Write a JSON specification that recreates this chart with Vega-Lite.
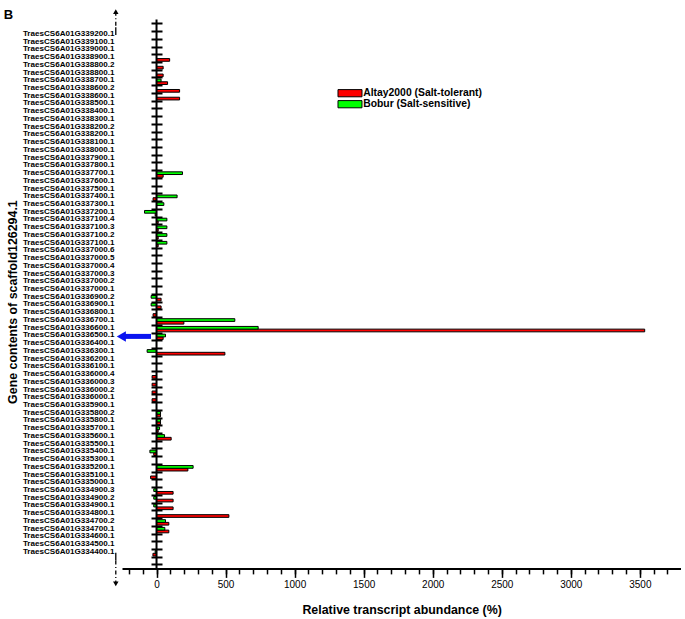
{
  "$schema": "https://vega.github.io/schema/vega-lite/v6.json",
  "width": 559.3,
  "height": 610.7,
  "padding": {"left": 3, "top": 0, "right": 0, "bottom": 0},
  "background": "white",
  "config": {"font": "Liberation Sans", "view": {"stroke": null}},
  "datasets": {
    "bars": [
      {"gene": "TraesCS6A01G338900.1", "cultivar": "Altay2000 (Salt-tolerant)", "value": 95},
      {"gene": "TraesCS6A01G338800.2", "cultivar": "Altay2000 (Salt-tolerant)", "value": 48},
      {"gene": "TraesCS6A01G338800.1", "cultivar": "Altay2000 (Salt-tolerant)", "value": 48},
      {"gene": "TraesCS6A01G338700.1", "cultivar": "Altay2000 (Salt-tolerant)", "value": 80},
      {"gene": "TraesCS6A01G338700.1", "cultivar": "Bobur (Salt-sensitive)", "value": 33},
      {"gene": "TraesCS6A01G338600.2", "cultivar": "Altay2000 (Salt-tolerant)", "value": 167},
      {"gene": "TraesCS6A01G338600.1", "cultivar": "Altay2000 (Salt-tolerant)", "value": 167},
      {"gene": "TraesCS6A01G337700.1", "cultivar": "Altay2000 (Salt-tolerant)", "value": 48},
      {"gene": "TraesCS6A01G337700.1", "cultivar": "Bobur (Salt-sensitive)", "value": 188},
      {"gene": "TraesCS6A01G337400.1", "cultivar": "Altay2000 (Salt-tolerant)", "value": -25},
      {"gene": "TraesCS6A01G337400.1", "cultivar": "Bobur (Salt-sensitive)", "value": 149},
      {"gene": "TraesCS6A01G337300.1", "cultivar": "Bobur (Salt-sensitive)", "value": 53},
      {"gene": "TraesCS6A01G337200.1", "cultivar": "Altay2000 (Salt-tolerant)", "value": -10},
      {"gene": "TraesCS6A01G337200.1", "cultivar": "Bobur (Salt-sensitive)", "value": -87},
      {"gene": "TraesCS6A01G337100.4", "cultivar": "Altay2000 (Salt-tolerant)", "value": 12},
      {"gene": "TraesCS6A01G337100.4", "cultivar": "Bobur (Salt-sensitive)", "value": 75},
      {"gene": "TraesCS6A01G337100.3", "cultivar": "Altay2000 (Salt-tolerant)", "value": 12},
      {"gene": "TraesCS6A01G337100.3", "cultivar": "Bobur (Salt-sensitive)", "value": 75},
      {"gene": "TraesCS6A01G337100.2", "cultivar": "Altay2000 (Salt-tolerant)", "value": 12},
      {"gene": "TraesCS6A01G337100.2", "cultivar": "Bobur (Salt-sensitive)", "value": 75},
      {"gene": "TraesCS6A01G337100.1", "cultivar": "Altay2000 (Salt-tolerant)", "value": 12},
      {"gene": "TraesCS6A01G337100.1", "cultivar": "Bobur (Salt-sensitive)", "value": 75},
      {"gene": "TraesCS6A01G336900.2", "cultivar": "Altay2000 (Salt-tolerant)", "value": 33},
      {"gene": "TraesCS6A01G336900.2", "cultivar": "Bobur (Salt-sensitive)", "value": -39},
      {"gene": "TraesCS6A01G336900.1", "cultivar": "Altay2000 (Salt-tolerant)", "value": 33},
      {"gene": "TraesCS6A01G336900.1", "cultivar": "Bobur (Salt-sensitive)", "value": -39},
      {"gene": "TraesCS6A01G336800.1", "cultivar": "Altay2000 (Salt-tolerant)", "value": -25},
      {"gene": "TraesCS6A01G336700.1", "cultivar": "Altay2000 (Salt-tolerant)", "value": 198},
      {"gene": "TraesCS6A01G336700.1", "cultivar": "Bobur (Salt-sensitive)", "value": 567},
      {"gene": "TraesCS6A01G336600.1", "cultivar": "Altay2000 (Salt-tolerant)", "value": 3535},
      {"gene": "TraesCS6A01G336600.1", "cultivar": "Bobur (Salt-sensitive)", "value": 736},
      {"gene": "TraesCS6A01G336500.1", "cultivar": "Altay2000 (Salt-tolerant)", "value": 48},
      {"gene": "TraesCS6A01G336500.1", "cultivar": "Bobur (Salt-sensitive)", "value": 65},
      {"gene": "TraesCS6A01G336300.1", "cultivar": "Altay2000 (Salt-tolerant)", "value": 495},
      {"gene": "TraesCS6A01G336300.1", "cultivar": "Bobur (Salt-sensitive)", "value": -68},
      {"gene": "TraesCS6A01G336000.4", "cultivar": "Altay2000 (Salt-tolerant)", "value": -32},
      {"gene": "TraesCS6A01G336000.3", "cultivar": "Altay2000 (Salt-tolerant)", "value": -32},
      {"gene": "TraesCS6A01G336000.2", "cultivar": "Altay2000 (Salt-tolerant)", "value": -32},
      {"gene": "TraesCS6A01G336000.1", "cultivar": "Altay2000 (Salt-tolerant)", "value": -32},
      {"gene": "TraesCS6A01G335800.2", "cultivar": "Altay2000 (Salt-tolerant)", "value": 29},
      {"gene": "TraesCS6A01G335800.2", "cultivar": "Bobur (Salt-sensitive)", "value": 29},
      {"gene": "TraesCS6A01G335800.1", "cultivar": "Altay2000 (Salt-tolerant)", "value": 29},
      {"gene": "TraesCS6A01G335800.1", "cultivar": "Bobur (Salt-sensitive)", "value": 29},
      {"gene": "TraesCS6A01G335700.1", "cultivar": "Altay2000 (Salt-tolerant)", "value": 12},
      {"gene": "TraesCS6A01G335700.1", "cultivar": "Bobur (Salt-sensitive)", "value": 22},
      {"gene": "TraesCS6A01G335600.1", "cultivar": "Altay2000 (Salt-tolerant)", "value": 106},
      {"gene": "TraesCS6A01G335600.1", "cultivar": "Bobur (Salt-sensitive)", "value": 58},
      {"gene": "TraesCS6A01G335400.1", "cultivar": "Altay2000 (Salt-tolerant)", "value": -20},
      {"gene": "TraesCS6A01G335400.1", "cultivar": "Bobur (Salt-sensitive)", "value": -48},
      {"gene": "TraesCS6A01G335200.1", "cultivar": "Altay2000 (Salt-tolerant)", "value": 227},
      {"gene": "TraesCS6A01G335200.1", "cultivar": "Bobur (Salt-sensitive)", "value": 265},
      {"gene": "TraesCS6A01G335100.1", "cultivar": "Altay2000 (Salt-tolerant)", "value": -43},
      {"gene": "TraesCS6A01G334900.3", "cultivar": "Altay2000 (Salt-tolerant)", "value": 120},
      {"gene": "TraesCS6A01G334900.3", "cultivar": "Bobur (Salt-sensitive)", "value": -20},
      {"gene": "TraesCS6A01G334900.2", "cultivar": "Altay2000 (Salt-tolerant)", "value": 120},
      {"gene": "TraesCS6A01G334900.2", "cultivar": "Bobur (Salt-sensitive)", "value": -20},
      {"gene": "TraesCS6A01G334900.1", "cultivar": "Altay2000 (Salt-tolerant)", "value": 120},
      {"gene": "TraesCS6A01G334900.1", "cultivar": "Bobur (Salt-sensitive)", "value": -20},
      {"gene": "TraesCS6A01G334800.1", "cultivar": "Altay2000 (Salt-tolerant)", "value": 524},
      {"gene": "TraesCS6A01G334700.2", "cultivar": "Altay2000 (Salt-tolerant)", "value": 89},
      {"gene": "TraesCS6A01G334700.2", "cultivar": "Bobur (Salt-sensitive)", "value": 65},
      {"gene": "TraesCS6A01G334700.1", "cultivar": "Altay2000 (Salt-tolerant)", "value": 89},
      {"gene": "TraesCS6A01G334700.1", "cultivar": "Bobur (Salt-sensitive)", "value": 60},
      {"gene": "TraesCS6A01G334400.1", "cultivar": "Altay2000 (Salt-tolerant)", "value": -26},
      {"gene": "TraesCS6A01G334400.1", "cultivar": "Bobur (Salt-sensitive)", "value": -10}
    ],
    "axisline": [{"gene": "t2", "gene2": "b1"}],
    "deco": [
      {"gene": "t1", "gene2": " ", "part": "dash"},
      {"gene": " ", "gene2": "TraesCS6A01G339200.1", "part": "solid"},
      {"gene": "TraesCS6A01G334400.1", "gene2": "  ", "part": "solid"},
      {"gene": "  ", "gene2": "b3", "part": "dash"}
    ],
    "decoheads": [
      {"gene": "t1", "dir": "up"},
      {"gene": "b3", "dir": "down"}
    ],
    "panel": [{"gene": "t1", "label": "B"}],
    "blue": [{"gene": "TraesCS6A01G336500.1"}]
  },
  "encoding": {
    "y": {
      "field": "gene",
      "type": "nominal",
      "scale": {
        "domain": ["t1", "t2", " ",
          "TraesCS6A01G339200.1", "TraesCS6A01G339100.1", "TraesCS6A01G339000.1", "TraesCS6A01G338900.1", "TraesCS6A01G338800.2", "TraesCS6A01G338800.1", "TraesCS6A01G338700.1", "TraesCS6A01G338600.2", "TraesCS6A01G338600.1", "TraesCS6A01G338500.1", "TraesCS6A01G338400.1", "TraesCS6A01G338300.1", "TraesCS6A01G338200.2", "TraesCS6A01G338200.1", "TraesCS6A01G338100.1", "TraesCS6A01G338000.1", "TraesCS6A01G337900.1", "TraesCS6A01G337800.1", "TraesCS6A01G337700.1", "TraesCS6A01G337600.1", "TraesCS6A01G337500.1", "TraesCS6A01G337400.1", "TraesCS6A01G337300.1", "TraesCS6A01G337200.1", "TraesCS6A01G337100.4", "TraesCS6A01G337100.3", "TraesCS6A01G337100.2", "TraesCS6A01G337100.1", "TraesCS6A01G337000.6", "TraesCS6A01G337000.5", "TraesCS6A01G337000.4", "TraesCS6A01G337000.3", "TraesCS6A01G337000.2", "TraesCS6A01G337000.1", "TraesCS6A01G336900.2", "TraesCS6A01G336900.1", "TraesCS6A01G336800.1", "TraesCS6A01G336700.1", "TraesCS6A01G336600.1", "TraesCS6A01G336500.1", "TraesCS6A01G336400.1", "TraesCS6A01G336300.1", "TraesCS6A01G336200.1", "TraesCS6A01G336100.1", "TraesCS6A01G336000.4", "TraesCS6A01G336000.3", "TraesCS6A01G336000.2", "TraesCS6A01G336000.1", "TraesCS6A01G335900.1", "TraesCS6A01G335800.2", "TraesCS6A01G335800.1", "TraesCS6A01G335700.1", "TraesCS6A01G335600.1", "TraesCS6A01G335500.1", "TraesCS6A01G335400.1", "TraesCS6A01G335300.1", "TraesCS6A01G335200.1", "TraesCS6A01G335100.1", "TraesCS6A01G335000.1", "TraesCS6A01G334900.3", "TraesCS6A01G334900.2", "TraesCS6A01G334900.1", "TraesCS6A01G334800.1", "TraesCS6A01G334700.2", "TraesCS6A01G334700.1", "TraesCS6A01G334600.1", "TraesCS6A01G334500.1", "TraesCS6A01G334400.1",
          "  ", "b1", "b2", "b3", "b4", "b5", "b6"],
        "paddingInner": 0,
        "paddingOuter": 0.5
      },
      "axis": {
        "values": [" ",
          "TraesCS6A01G339200.1", "TraesCS6A01G339100.1", "TraesCS6A01G339000.1", "TraesCS6A01G338900.1", "TraesCS6A01G338800.2", "TraesCS6A01G338800.1", "TraesCS6A01G338700.1", "TraesCS6A01G338600.2", "TraesCS6A01G338600.1", "TraesCS6A01G338500.1", "TraesCS6A01G338400.1", "TraesCS6A01G338300.1", "TraesCS6A01G338200.2", "TraesCS6A01G338200.1", "TraesCS6A01G338100.1", "TraesCS6A01G338000.1", "TraesCS6A01G337900.1", "TraesCS6A01G337800.1", "TraesCS6A01G337700.1", "TraesCS6A01G337600.1", "TraesCS6A01G337500.1", "TraesCS6A01G337400.1", "TraesCS6A01G337300.1", "TraesCS6A01G337200.1", "TraesCS6A01G337100.4", "TraesCS6A01G337100.3", "TraesCS6A01G337100.2", "TraesCS6A01G337100.1", "TraesCS6A01G337000.6", "TraesCS6A01G337000.5", "TraesCS6A01G337000.4", "TraesCS6A01G337000.3", "TraesCS6A01G337000.2", "TraesCS6A01G337000.1", "TraesCS6A01G336900.2", "TraesCS6A01G336900.1", "TraesCS6A01G336800.1", "TraesCS6A01G336700.1", "TraesCS6A01G336600.1", "TraesCS6A01G336500.1", "TraesCS6A01G336400.1", "TraesCS6A01G336300.1", "TraesCS6A01G336200.1", "TraesCS6A01G336100.1", "TraesCS6A01G336000.4", "TraesCS6A01G336000.3", "TraesCS6A01G336000.2", "TraesCS6A01G336000.1", "TraesCS6A01G335900.1", "TraesCS6A01G335800.2", "TraesCS6A01G335800.1", "TraesCS6A01G335700.1", "TraesCS6A01G335600.1", "TraesCS6A01G335500.1", "TraesCS6A01G335400.1", "TraesCS6A01G335300.1", "TraesCS6A01G335200.1", "TraesCS6A01G335100.1", "TraesCS6A01G335000.1", "TraesCS6A01G334900.3", "TraesCS6A01G334900.2", "TraesCS6A01G334900.1", "TraesCS6A01G334800.1", "TraesCS6A01G334700.2", "TraesCS6A01G334700.1", "TraesCS6A01G334600.1", "TraesCS6A01G334500.1", "TraesCS6A01G334400.1",
          "  "],
        "orient": "left",
        "offset": -40,
        "domain": false,
        "ticks": true,
        "tickBand": "extent",
        "tickSize": 11,
        "tickWidth": 2,
        "tickColor": "black",
        "labelPadding": 37,
        "labelOffset": -1.5,
        "labelFontSize": 8.1,
        "labelFontWeight": "bold",
        "labelColor": "black",
        "labelFont": "Liberation Sans",
        "labelOverlap": false,
        "labelLimit": 0,
        "grid": false,
        "title": "Gene contents of scaffold126294.1",
        "titleFont": "Liberation Sans",
        "titleFontSize": 12.4,
        "titleFontWeight": "bold",
        "titleColor": "black",
        "titlePadding": 3,
        "titleY": 297.6
      }
    }
  },
  "layer": [
    {
      "data": {"name": "bars"},
      "mark": {"type": "bar", "stroke": "black", "strokeWidth": 1},
      "encoding": {
        "x": {
          "field": "value",
          "type": "quantitative",
          "scale": {"domain": [-250, 3800], "nice": false, "zero": false},
          "axis": {
            "values": [0, 500, 1000, 1500, 2000, 2500, 3000, 3500],
            "format": "d",
            "orient": "bottom",
            "offset": -46.3,
            "grid": false,
            "tickSize": 9,
            "tickWidth": 1.5,
            "tickColor": "black",
            "domainColor": "black",
            "domainWidth": 2,
            "labelFont": "Liberation Sans",
            "labelFontSize": 10,
            "labelColor": "black",
            "labelPadding": 2,
            "title": "Relative transcript abundance (%)",
            "titleFont": "Liberation Sans",
            "titleFontSize": 12.4,
            "titleFontWeight": "bold",
            "titleColor": "black",
            "titlePadding": 14.5
          }
        },
        "yOffset": {
          "field": "cultivar",
          "type": "nominal",
          "sort": ["Bobur (Salt-sensitive)", "Altay2000 (Salt-tolerant)"],
          "scale": {"paddingInner": 0, "paddingOuter": 0.43, "align": 0.7}
        },
        "color": {
          "field": "cultivar",
          "type": "nominal",
          "scale": {"domain": ["Altay2000 (Salt-tolerant)", "Bobur (Salt-sensitive)"], "range": ["#ff0000", "#00ff00"]},
          "legend": {
            "title": null,
            "orient": "none",
            "legendX": 222.8,
            "legendY": 84,
            "padding": 0,
            "symbolType": "M-3,-0.9H3V0.9H-3Z",
            "symbolSize": 64,
            "symbolStrokeColor": "black",
            "symbolStrokeWidth": 1,
            "symbolOpacity": 1,
            "labelFont": "Liberation Sans",
            "labelFontSize": 10.4,
            "labelFontWeight": "bold",
            "labelColor": "black",
            "labelOffset": 8,
            "rowPadding": -1.4
          }
        }
      }
    },
    {
      "data": {"name": "axisline"},
      "mark": {"type": "rule", "color": "black", "strokeWidth": 2},
      "encoding": {
        "x": {
          "datum": 0,
          "type": "quantitative",
          "scale": {"domain": [-250, 3800], "nice": false, "zero": false},
          "axis": {
            "values": [-200, -100, 0, 100, 200, 300, 400, 500, 600, 700, 800, 900, 1000, 1100, 1200, 1300, 1400, 1500, 1600, 1700, 1800, 1900, 2000, 2100, 2200, 2300, 2400, 2500, 2600, 2700, 2800, 2900, 3000, 3100, 3200, 3300, 3400, 3500, 3600, 3700],
            "orient": "bottom",
            "offset": -46.3,
            "grid": false,
            "domain": false,
            "labels": false,
            "title": null,
            "tickSize": 5.5,
            "tickWidth": 1.5,
            "tickColor": "black"
          }
        },
        "y2": {"field": "gene2"}
      }
    },
    {
      "data": {"name": "deco"},
      "mark": {"type": "rule", "color": "black", "strokeWidth": 1.3},
      "encoding": {
        "x": {"datum": -295, "type": "quantitative", "axis": null},
        "y2": {"field": "gene2"},
        "strokeDash": {
          "field": "part",
          "type": "nominal",
          "scale": {"domain": ["dash", "solid"], "range": [[4, 2.5, 1, 2.5], [1, 0]]},
          "legend": null
        }
      }
    },
    {
      "data": {"name": "decoheads"},
      "mark": {"type": "point", "filled": true, "color": "black", "opacity": 1, "size": 30},
      "encoding": {
        "x": {"datum": -295, "type": "quantitative", "axis": null},
        "shape": {
          "field": "dir",
          "type": "nominal",
          "scale": {"domain": ["up", "down"], "range": ["triangle-up", "triangle-down"]},
          "legend": null
        }
      }
    },
    {
      "data": {"name": "panel"},
      "mark": {"type": "text", "align": "left", "baseline": "middle", "dy": 3, "fontSize": 13, "fontWeight": "bold", "font": "Liberation Sans", "color": "black"},
      "encoding": {
        "x": {"datum": -1106, "type": "quantitative", "axis": null},
        "text": {"field": "label"}
      }
    },
    {
      "data": {"name": "blue"},
      "mark": {"type": "rule", "color": "#0a14f0", "strokeWidth": 5},
      "encoding": {
        "x": {"datum": -238, "type": "quantitative", "axis": null},
        "x2": {"datum": -40}
      }
    },
    {
      "data": {"name": "blue"},
      "mark": {"type": "point", "filled": true, "color": "#0a14f0", "opacity": 1, "shape": "triangle-left", "size": 110},
      "encoding": {
        "x": {"datum": -255, "type": "quantitative", "axis": null}
      }
    }
  ],
  "resolve": {"axis": {"x": "independent"}}
}
